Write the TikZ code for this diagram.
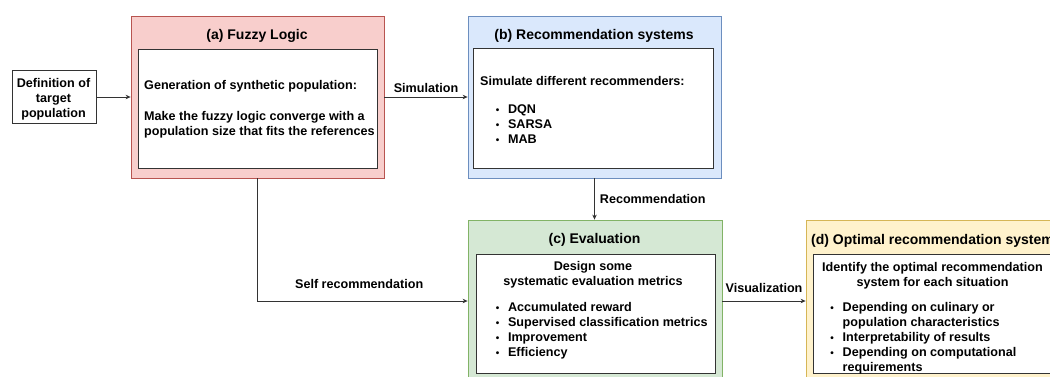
\documentclass[tikz,border=0pt]{standalone}
\usepackage{fontspec}
\setmainfont{Liberation Sans}
\usetikzlibrary{arrows.meta}

\definecolor{redfill}{HTML}{F8CECC}
\definecolor{redline}{HTML}{B85450}
\definecolor{bluefill}{HTML}{DAE8FC}
\definecolor{blueline}{HTML}{6C8EBF}
\definecolor{greenfill}{HTML}{D5E8D4}
\definecolor{greenline}{HTML}{82B366}
\definecolor{yellowfill}{HTML}{FFF2CC}
\definecolor{yellowline}{HTML}{D6B656}
\definecolor{edge}{HTML}{333333}

\newcommand{\bodyfont}{\bfseries\fontsize{12.6}{15.2}\selectfont\setbox\strutbox\hbox{\vrule height 10.6pt depth 4.6pt width 0pt}}
\newcommand{\bul}{\makebox[21pt]{\fontsize{10}{10}\selectfont\textbullet}}

\begin{document}
\begin{tikzpicture}[x=1pt,y=-1pt,
  outerbox/.style={draw, line width=0.8pt, inner sep=0pt, minimum width=253pt, minimum height=162pt},
  innerbox/.style={draw=edge, fill=white, line width=0.8pt, inner sep=0pt, minimum width=239pt, minimum height=119pt},
  title/.style={font=\bfseries\fontsize{14}{16}\selectfont, inner sep=0pt, anchor=base},
  txt/.style={font=\bodyfont, inner sep=0pt},
  conn/.style={draw=edge, line width=0.8pt, -{Stealth[length=5pt,width=4.5pt]}},
]
\clip (0,0) rectangle (1050,376);

% target population
\node[draw=edge, fill=white, line width=0.8pt, minimum width=84pt, minimum height=53pt] (target) at (54,97) {};
\node[txt, anchor=base] (targetTxt) at (53.5,87) {\begin{tabular}[t]{@{}c@{}}Definition of\\target\\population\end{tabular}};

% (a) fuzzy logic
\node[outerbox, draw=redline, fill=redfill] (fuzzy) at (257.5,97) {};
\node[title] (fuzzyT) at (257,39) {(a) Fuzzy Logic};
\node[innerbox] (fuzzyIn) at (257.5,108.5) {};
\node[txt, anchor=base west] (fuzzyGen) at (144,89) {Generation of synthetic population:};
\node[txt, anchor=base west] (fuzzyConv) at (144,120.5) {\begin{tabular}[t]{@{}l@{}}Make the fuzzy logic converge with a\\population size that fits the references\end{tabular}};

% (b) recommendation systems
\node[outerbox, draw=blueline, fill=bluefill] (rec) at (594.5,97) {};
\node[title] (recT) at (594,39.5) {(b) Recommendation systems};
\node[innerbox, minimum width=240pt, minimum height=120pt] (recIn) at (593,108) {};
\node[txt, anchor=base west] (recSim) at (480,85) {Simulate different recommenders:};
\node[txt, anchor=base west] (recList) at (486.8,113) {\begin{tabular}[t]{@{}l@{}l@{}}\bul&DQN\\\bul&SARSA\\\bul&MAB\end{tabular}};

% (c) evaluation
\node[outerbox, draw=greenline, fill=greenfill, minimum width=254pt] (eval) at (595,301) {};
\node[title] (evalT) at (594.5,243.5) {(c) Evaluation};
\node[innerbox] (evalIn) at (595.5,313.5) {};
\node[txt, anchor=base] (evalHead) at (593,270.5) {\begin{tabular}[t]{@{}c@{}}Design some\\systematic evaluation metrics\end{tabular}};
\node[txt, anchor=base west] (evalList) at (486.8,311) {\begin{tabular}[t]{@{}l@{}l@{}}\bul&Accumulated reward\\\bul&Supervised classification metrics\\\bul&Improvement\\\bul&Efficiency\end{tabular}};

% (d) optimal recommendation system
\node[outerbox, draw=yellowline, fill=yellowfill] (opt) at (932.5,301) {};
\node[title] (optT) at (932.5,244) {(d) Optimal recommendation system};
\node[innerbox] (optIn) at (932.5,313.5) {};
\node[txt, anchor=base] (optHead) at (932.5,271) {\begin{tabular}[t]{@{}c@{}}Identify the optimal recommendation\\system for each situation\end{tabular}};
\node[txt, anchor=base west] (optList) at (821.5,311) {\begin{tabular}[t]{@{}l@{}l@{}}\bul&Depending on culinary or\\&population characteristics\\\bul&Interpretability of results\\\bul&Depending on computational\\&requirements\end{tabular}};

% connectors
\draw[conn] (target.east) -- (fuzzy.west);
\draw[conn] (fuzzy.east) -- node[txt, anchor=base, yshift=5pt] (simLbl) {Simulation} (rec.west);
\draw[conn] (rec.south) -- node[txt, anchor=base west, xshift=5pt, yshift=-4pt] (recLbl) {Recommendation} (rec.south |- eval.north);
\draw[conn] (fuzzy.south) |- node[txt, pos=0.742, anchor=base, yshift=13pt] (selfLbl) {Self recommendation} (eval.west);
\draw[conn] (eval.east) -- node[txt, anchor=base, yshift=9pt] (visLbl) {Visualization} (opt.west);
\end{tikzpicture}
\end{document}
